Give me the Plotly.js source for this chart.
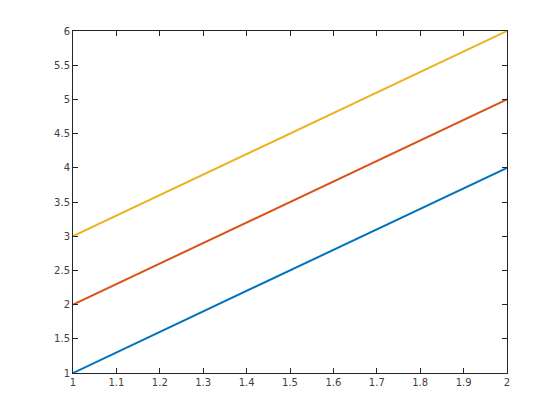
<!DOCTYPE html>
<html><head><meta charset="utf-8">
<script src="https://cdn.plot.ly/plotly-3.0.1.min.js"></script>
<style>body{margin:0;background:#fff}#c{width:560px;height:420px}</style>
</head><body><div id="c"></div>
<script>
const xValues = [1, 2];
const series1 = [1, 4];
const series2 = [2, 5];
const series3 = [3, 6];
const colors = ['#0072bd', '#d95319', '#edb120'];
const xTicks = [1, 1.1, 1.2, 1.3, 1.4, 1.5, 1.6, 1.7, 1.8, 1.9, 2];
const yTicks = [1, 1.5, 2, 2.5, 3, 3.5, 4, 4.5, 5, 5.5, 6];

const traces = [series1, series2, series3].map((s, i) => ({
  x: xValues, y: s, type: 'scatter', mode: 'lines',
  line: {color: colors[i], width: 2}, showlegend: false, hoverinfo: 'none'
}));

const axisCommon = {
  showgrid: false, zeroline: false, showline: true, linecolor: '#262626', linewidth: 1,
  mirror: 'allticks', ticks: 'inside', ticklen: 5, tickcolor: '#262626', tickwidth: 1,
  tickfont: {family: 'DejaVu Sans, sans-serif', size: 10, color: '#404040'}
};

const layout = {
  width: 560, height: 420,
  margin: {l: 73, r: 53, t: 31, b: 47},
  paper_bgcolor: '#ffffff', plot_bgcolor: '#ffffff',
  xaxis: Object.assign({}, axisCommon, {range: [1, 2], tickvals: xTicks, ticktext: xTicks.map(String)}),
  yaxis: Object.assign({}, axisCommon, {range: [1, 6], tickvals: yTicks, ticktext: yTicks.map(String)})
};

Plotly.newPlot('c', traces, layout, {displayModeBar: false, staticPlot: true});
</script></body></html>
